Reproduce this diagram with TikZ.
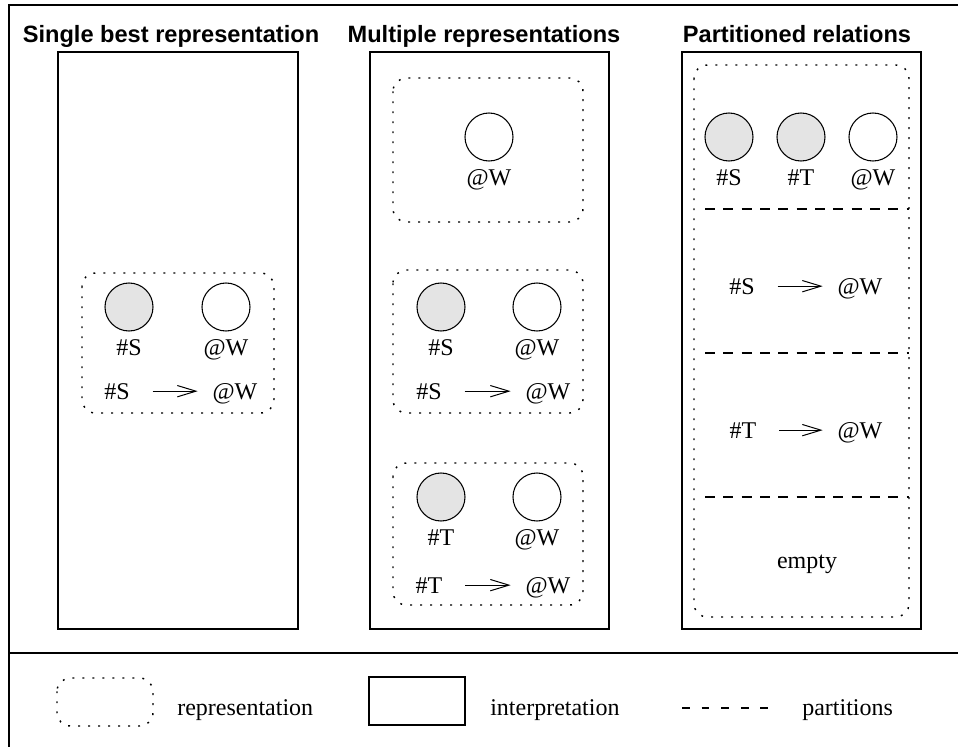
\documentclass[tikz,border=0pt]{standalone}
\usepackage{fontspec}
\setmainfont{Liberation Serif}
\newfontfamily\headfont{Liberation Sans}
\usetikzlibrary{positioning,arrows.meta}
\definecolor{symfill}{HTML}{E4E4E4}

\begin{document}
\begin{tikzpicture}[
  x=0.75pt, y=-0.75pt,
  font=\fontsize{18}{20}\selectfont,
  interp/.style={draw, line width=1pt},
  repr/.style={draw, line width=1.1pt, dash pattern=on 1.4pt off 6.1pt, rounded corners=10pt},
  part/.style={draw, line width=0.8pt, dash pattern=on 7.5pt off 6.25pt},
  ent/.style={circle, draw, line width=0.8pt, minimum size=36pt, inner sep=0pt, fill=white},
  sym/.style={ent, fill=symfill},
  lbl/.style={inner sep=0pt},
  row/.style={lbl, anchor=base},
  ttl/.style={font=\headfont\bfseries\fontsize{17.7}{20}\selectfont, anchor=base},
  rel/.style={-{Straight Barb[length=14pt,width=8.5pt]}, line width=0.75pt, shorten <=17pt, shorten >=11pt},
]
\useasboundingbox (0,0) rectangle (958,747);
\draw[interp] (958,5) -- (9,5) -- (9,747);
\draw[interp] (9,653) -- (958,653);

\node[ttl] (t1) at (171,42) {Single best representation};
\node[ttl] (t2) at (484,42) {Multiple representations};
\node[ttl] (t3) at (797,42) {Partitioned relations};

\draw[interp] (58,52) rectangle (298,629);
\draw[interp] (370,52) rectangle (609,629);
\draw[interp] (682,52) rectangle (921,629);

% single best
\draw[repr] (82,273) rectangle (274,413);
\node[sym] (a1) at (129,307) {};
\node[ent] (a2) at (226,307) {};
\node[lbl, below=6pt of a1] (a1l) {\#S};
\node[lbl, below=6pt of a2] (a2l) {@W};
\node[row] (a3) at (117,399) {\#S};
\node[row] (a4) at (235,399) {@W};
\draw[rel] (a3.east) -- (a3.east -| a4.west);

% multiple
\draw[repr] (393,78) rectangle (583,222);
\node[ent] (b1) at (489,137) {};
\node[lbl, below=6pt of b1] (b1l) {@W};

\draw[repr] (393,270) rectangle (583,413);
\node[sym] (c1) at (441,307) {};
\node[ent] (c2) at (537,307) {};
\node[lbl, below=6pt of c1] (c1l) {\#S};
\node[lbl, below=6pt of c2] (c2l) {@W};
\node[row] (c3) at (429,399) {\#S};
\node[row] (c4) at (548,399) {@W};
\draw[rel] (c3.east) -- (c3.east -| c4.west);

\draw[repr] (393,463) rectangle (583,605);
\node[sym] (d1) at (441,497) {};
\node[ent] (d2) at (537,497) {};
\node[lbl, below=6pt of d1] (d1l) {\#T};
\node[lbl, below=6pt of d2] (d2l) {@W};
\node[row] (d3) at (429,593) {\#T};
\node[row] (d4) at (548,593) {@W};
\draw[rel] (d3.east) -- (d3.east -| d4.west);

% partitioned
\draw[repr] (694,65) rectangle (909,617);
\node[sym] (e1) at (729,137) {};
\node[sym] (e2) at (801,137) {};
\node[ent] (e3) at (873,137) {};
\node[lbl, below=6pt of e1] (e1l) {\#S};
\node[lbl, below=6pt of e2] (e2l) {\#T};
\node[lbl, below=6pt of e3] (e3l) {@W};
\draw[part] (705,209) -- (909,209);
\node[row] (f1) at (742,294) {\#S};
\node[row] (f2) at (860,294) {@W};
\draw[rel] (f1.east) -- (f1.east -| f2.west);
\draw[part] (705,353) -- (909,353);
\node[row] (g1) at (743,438) {\#T};
\node[row] (g2) at (860,438) {@W};
\draw[rel] (g1.east) -- (g1.east -| g2.west);
\draw[part] (705,497) -- (909,497);
\node[row] (h1) at (807,568) {empty};

% legend
\draw[repr] (57,678) rectangle (153,726);
\node[lbl, anchor=base west] (k1) at (177,715) {representation};
\draw[interp] (369,677) rectangle (465,725);
\node[lbl, anchor=base west] (k2) at (490,715) {interpretation};
\draw[part, dash pattern=on 5.8pt off 8.9pt] (682,708) -- (768,708);
\node[lbl, anchor=base west] (k3) at (802,715) {partitions};
\end{tikzpicture}
\end{document}
